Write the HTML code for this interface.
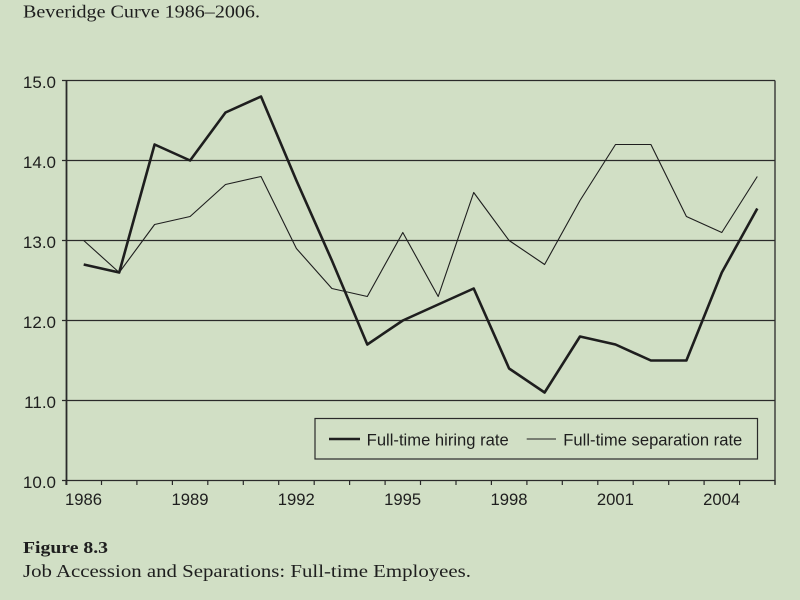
<!DOCTYPE html>
<html><head><meta charset="utf-8"><style>
html,body{margin:0;padding:0;background:#d1dfc5;}
svg{display:block;}
</style></head><body>
<svg width="800" height="600" viewBox="0 0 800 600" xmlns="http://www.w3.org/2000/svg">
<rect x="0" y="0" width="800" height="600" fill="#d1dfc5"/>
<text x="23" y="17.5" font-family="Liberation Serif, serif" font-size="17.5" fill="#1e1e1e" textLength="237" lengthAdjust="spacingAndGlyphs">Beveridge Curve 1986–2006.</text>

<g stroke="#2a2a2a" stroke-width="1.3" fill="none">
<line x1="62" y1="80.5" x2="775" y2="80.5"/>
<line x1="62" y1="160.5" x2="775" y2="160.5"/>
<line x1="62" y1="240.5" x2="775" y2="240.5"/>
<line x1="62" y1="320.5" x2="775" y2="320.5"/>
<line x1="62" y1="400.5" x2="775" y2="400.5"/>
<line x1="62" y1="480.5" x2="775" y2="480.5"/>
<line x1="775" y1="80.5" x2="775" y2="484.5"/>
</g>
<line x1="66.5" y1="80" x2="66.5" y2="485" stroke="#2a2a2a" stroke-width="1.8"/>
<g stroke="#2a2a2a" stroke-width="1.2">
<line x1="66.0" y1="480" x2="66.0" y2="485"/>
<line x1="101.5" y1="480" x2="101.5" y2="485"/>
<line x1="136.9" y1="480" x2="136.9" y2="485"/>
<line x1="172.4" y1="480" x2="172.4" y2="485"/>
<line x1="207.8" y1="480" x2="207.8" y2="485"/>
<line x1="243.3" y1="480" x2="243.3" y2="485"/>
<line x1="278.7" y1="480" x2="278.7" y2="485"/>
<line x1="314.2" y1="480" x2="314.2" y2="485"/>
<line x1="349.6" y1="480" x2="349.6" y2="485"/>
<line x1="385.1" y1="480" x2="385.1" y2="485"/>
<line x1="420.5" y1="480" x2="420.5" y2="485"/>
<line x1="456.0" y1="480" x2="456.0" y2="485"/>
<line x1="491.4" y1="480" x2="491.4" y2="485"/>
<line x1="526.9" y1="480" x2="526.9" y2="485"/>
<line x1="562.3" y1="480" x2="562.3" y2="485"/>
<line x1="597.8" y1="480" x2="597.8" y2="485"/>
<line x1="633.2" y1="480" x2="633.2" y2="485"/>
<line x1="668.7" y1="480" x2="668.7" y2="485"/>
<line x1="704.1" y1="480" x2="704.1" y2="485"/>
<line x1="739.6" y1="480" x2="739.6" y2="485"/>
<line x1="775.0" y1="480" x2="775.0" y2="485"/>
</g>

<g font-family="Liberation Sans, sans-serif" font-size="17" fill="#1e1e1e" text-anchor="end">
<text x="56" y="88">15.0</text>
<text x="56" y="168">14.0</text>
<text x="56" y="248">13.0</text>
<text x="56" y="328">12.0</text>
<text x="56" y="408">11.0</text>
<text x="56" y="488">10.0</text>
</g>
<g font-family="Liberation Sans, sans-serif" font-size="16.5" fill="#1e1e1e">
<text x="65" y="505" textLength="37" lengthAdjust="spacingAndGlyphs">1986</text>
<text x="171.5" y="505" textLength="37" lengthAdjust="spacingAndGlyphs">1989</text>
<text x="277.8" y="505" textLength="37" lengthAdjust="spacingAndGlyphs">1992</text>
<text x="384.2" y="505" textLength="37" lengthAdjust="spacingAndGlyphs">1995</text>
<text x="490.5" y="505" textLength="37" lengthAdjust="spacingAndGlyphs">1998</text>
<text x="596.9" y="505" textLength="37" lengthAdjust="spacingAndGlyphs">2001</text>
<text x="703.2" y="505" textLength="37" lengthAdjust="spacingAndGlyphs">2004</text>
</g>

<!-- separation rate (thin) -->
<polyline fill="none" stroke="#1e1e1e" stroke-width="1.1" stroke-linejoin="round" points="
83.7,240.5 119.2,272.5 154.6,224.5 190.1,216.5 225.5,184.5 261.0,176.5 296.4,248.5 331.9,288.5 367.3,296.5 402.8,232.5 438.2,296.5 473.7,192.5 509.1,240.5 544.6,264.5 580.0,200.5 615.5,144.5 650.9,144.5 686.4,216.5 721.8,232.5 757.3,176.5"/>
<!-- hiring rate (thick) -->
<polyline fill="none" stroke="#1e1e1e" stroke-width="2.6" stroke-linejoin="round" points="
83.7,264.5 119.2,272.5 154.6,144.5 190.1,160.5 225.5,112.5 261.0,96.5 296.4,180.5 331.9,260.5 367.3,344.5 402.8,320.5 438.2,304.5 473.7,288.5 509.1,368.5 544.6,392.5 580.0,336.5 615.5,344.5 650.9,360.5 686.4,360.5 721.8,272.5 757.3,208.5"/>

<!-- legend -->
<rect x="315" y="418.5" width="442.5" height="40.5" fill="#d1dfc5" stroke="#2a2a2a" stroke-width="1.2"/>
<line x1="329" y1="439" x2="360" y2="439" stroke="#1e1e1e" stroke-width="2.6"/>
<text x="366.7" y="445.5" font-family="Liberation Sans, sans-serif" font-size="16.5" fill="#1e1e1e" textLength="142" lengthAdjust="spacingAndGlyphs">Full-time hiring rate</text>
<line x1="526.7" y1="439" x2="556" y2="439" stroke="#1e1e1e" stroke-width="1.1"/>
<text x="563.3" y="445.5" font-family="Liberation Sans, sans-serif" font-size="16.5" fill="#1e1e1e" textLength="179" lengthAdjust="spacingAndGlyphs">Full-time separation rate</text>

<text x="23" y="553" font-family="Liberation Serif, serif" font-size="17" font-weight="bold" fill="#1e1e1e" textLength="85" lengthAdjust="spacingAndGlyphs">Figure 8.3</text>
<text x="23" y="577" font-family="Liberation Serif, serif" font-size="17.5" fill="#1e1e1e" textLength="448" lengthAdjust="spacingAndGlyphs">Job Accession and Separations: Full-time Employees.</text>
</svg>
</body></html>
